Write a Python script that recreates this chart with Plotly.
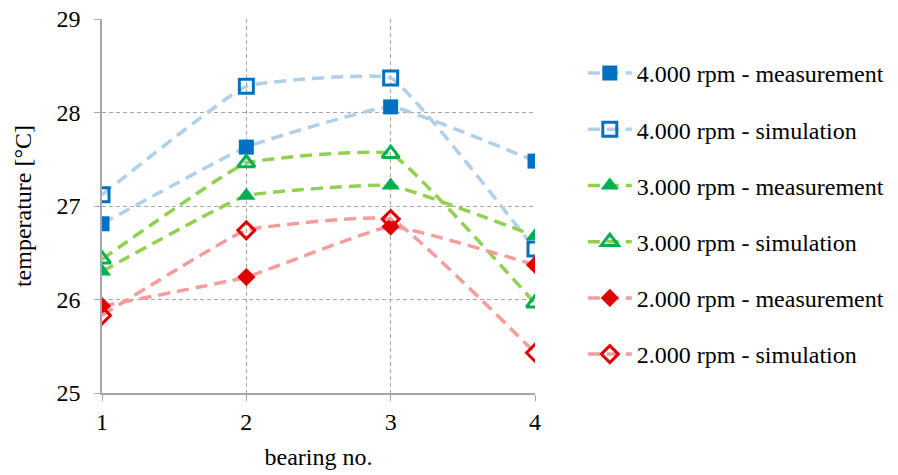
import plotly.graph_objects as go

bearing = [1, 2, 3, 4]
m4000 = [26.81, 27.63, 28.06, 27.48]
s4000 = [27.12, 28.28, 28.37, 26.54]
m3000 = [26.30, 27.11, 27.22, 26.68]
s3000 = [26.43, 27.46, 27.56, 25.96]
m2000 = [25.93, 26.24, 26.78, 26.37]
s2000 = [25.83, 26.74, 26.86, 25.43]

series = [
    ("4.000 rpm - measurement", m4000, "#B0D0E8", "#0070C0", "square", 15),
    ("4.000 rpm - simulation", s4000, "#B0D0E8", "#0070C0", "square-open", 14),
    ("3.000 rpm - measurement", m3000, "#92D050", "#00B050", "triangle-up", 16),
    ("3.000 rpm - simulation", s3000, "#92D050", "#00B050", "triangle-up-open", 15),
    ("2.000 rpm - measurement", m2000, "#F59D9D", "#E00000", "diamond", 14),
    ("2.000 rpm - simulation", s2000, "#F59D9D", "#E00000", "diamond-open", 13),
]

fig = go.Figure()
for i, (name, vals, lc, mc, sym, size) in enumerate(series):
    fig.add_trace(go.Scatter(
        x=bearing, y=vals, name=name, mode="lines+markers",
        legendgroup=f"g{i}",
        line=dict(color=lc, width=3.5, dash="12px,7px", shape="spline", smoothing=0.3),
        marker=dict(symbol=sym, size=size, color=mc,
                    line=dict(color=mc, width=3 if "open" in sym else 0)),
    ))

font = "Liberation Serif, Times New Roman, serif"
fig.update_layout(
    width=898, height=475,
    margin=dict(l=102, r=363, t=19, b=82),
    paper_bgcolor="white", plot_bgcolor="white",
    font=dict(family=font, size=24, color="#000000"),
    showlegend=True,
    legend=dict(xref="container", yref="container", x=0.649, y=0.8926,
                xanchor="left", yanchor="top", maxheight=460,
                font=dict(family=font, size=24), tracegroupgap=22,
                itemwidth=44, bgcolor="rgba(0,0,0,0)"),
    xaxis=dict(range=[1, 4], tickvals=bearing, ticktext=["1", "2", "3", "4"],
               showgrid=True, gridcolor="#A6A6A6", griddash="4px,3px", gridwidth=1,
               showline=True, linecolor="#A6A6A6", linewidth=1.5,
               ticks="outside", ticklen=6, tickcolor="#A6A6A6",
               zeroline=False, automargin=False,
               tickfont=dict(family=font, size=24),
               title=dict(text="bearing no.", font=dict(family=font, size=24), standoff=15)),
    yaxis=dict(range=[25, 29], tickvals=[25, 26, 27, 28, 29],
               showgrid=True, gridcolor="#A6A6A6", griddash="4px,3px", gridwidth=1,
               showline=True, linecolor="#A6A6A6", linewidth=1.5,
               ticks="outside", ticklen=6, tickcolor="#A6A6A6",
               ticklabelstandoff=9,
               zeroline=False, automargin=False,
               tickfont=dict(family=font, size=24),
               title=dict(text="temperature [°C]", font=dict(family=font, size=24), standoff=18)),
)

fig.write_html("out.html", config={"displayModeBar": False},
               post_script="document.body.style.margin='0';")
